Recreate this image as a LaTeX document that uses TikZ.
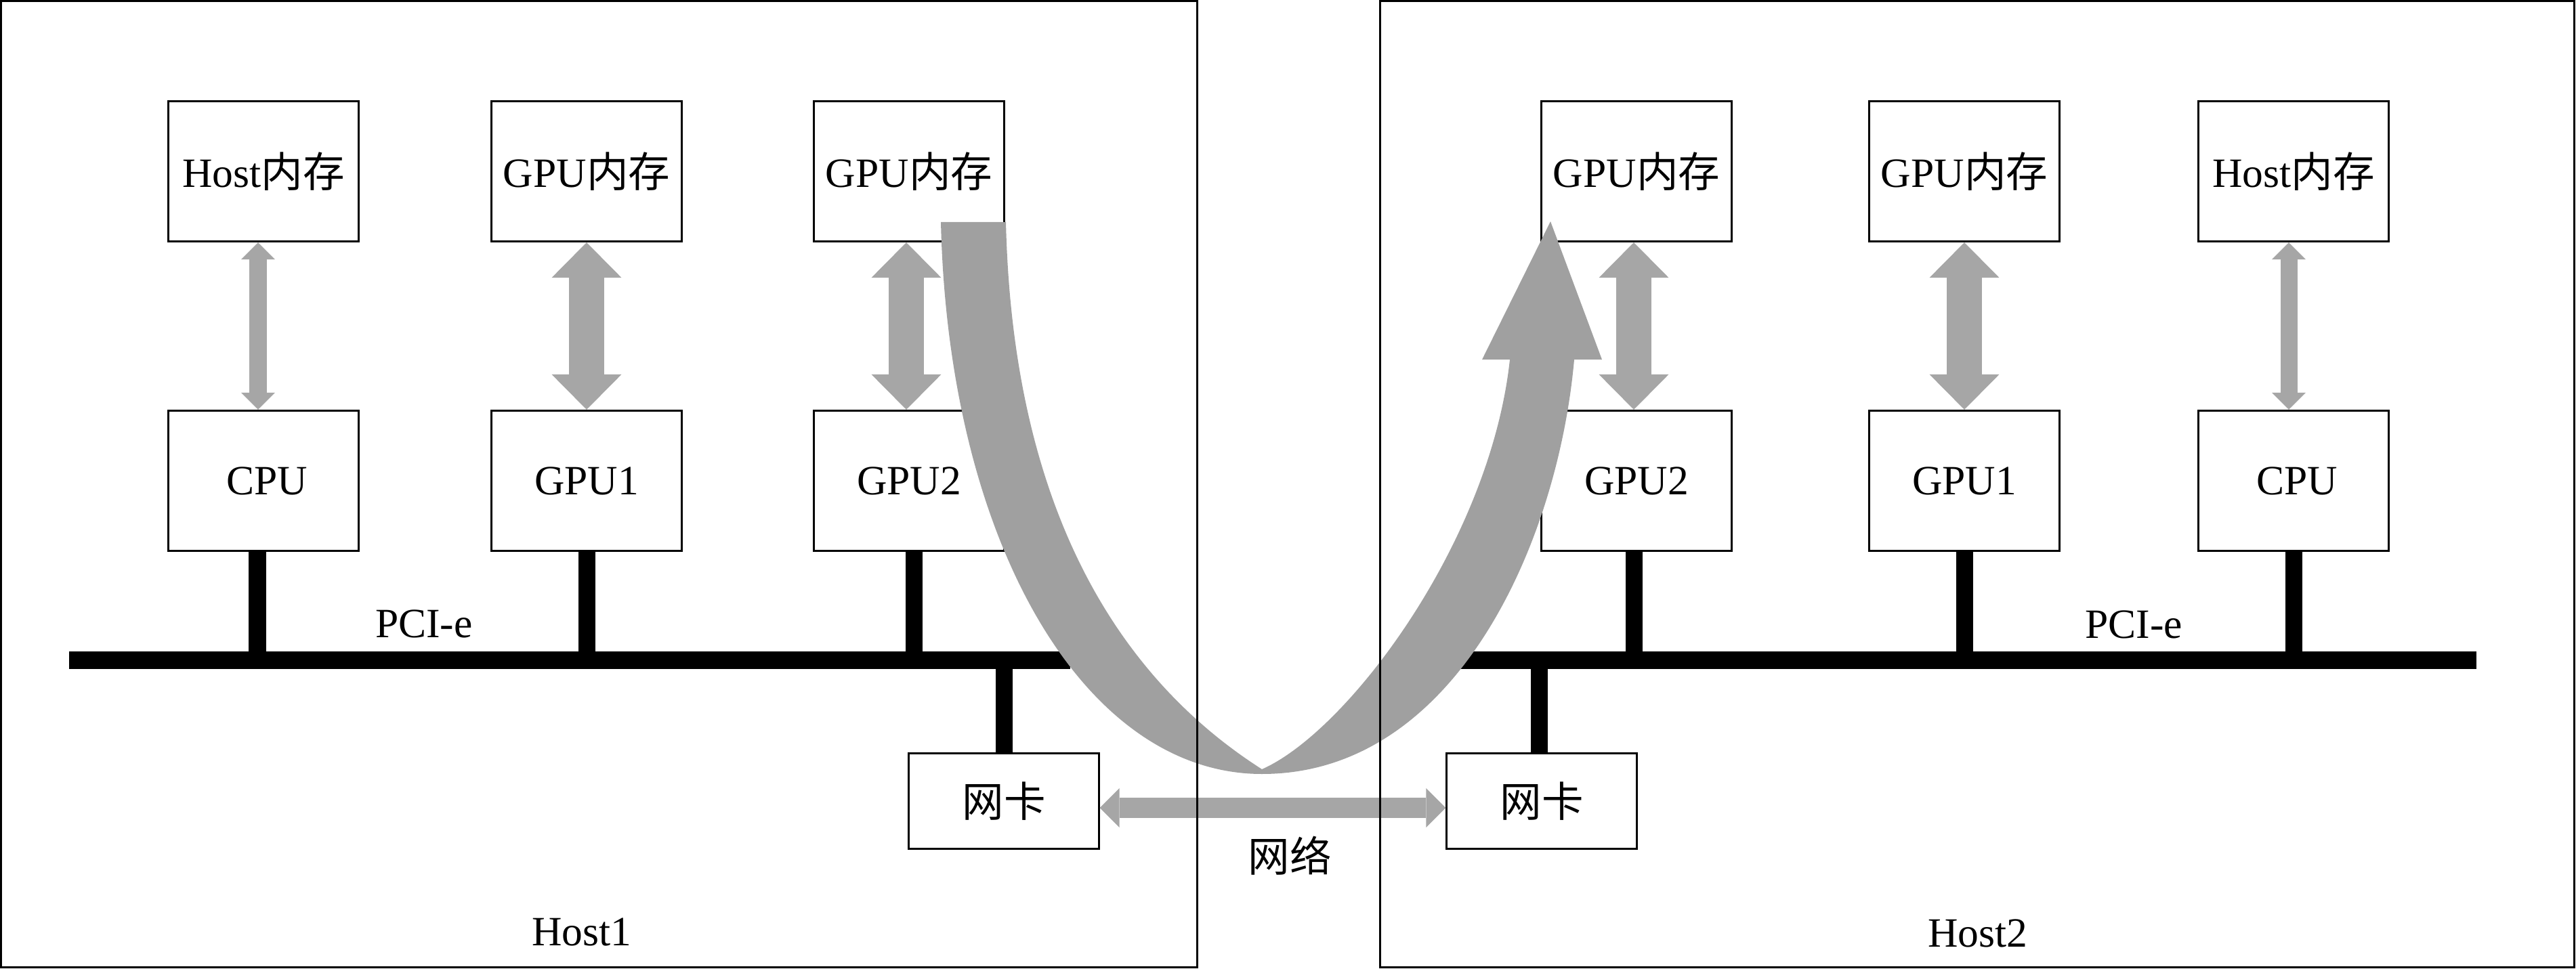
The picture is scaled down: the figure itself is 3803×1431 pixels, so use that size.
\documentclass[tikz,border=0pt]{standalone}
\usepackage{fontspec}
\setmainfont{Liberation Serif}
\newfontfamily\cjk{Noto Sans CJK SC}
\usetikzlibrary{arrows.meta}
\definecolor{agray}{HTML}{A6A6A6}
\definecolor{bgray}{HTML}{A0A0A0}
\begin{document}
\begin{tikzpicture}[x=0.01cm,y=-0.01cm,
  box/.style={draw, line width=0.03cm, minimum width=2.8cm, minimum height=2.07cm, inner sep=0pt, font=\fontsize{17.5}{21}\selectfont},
  nicbox/.style={box, minimum height=1.41cm},
  lbl/.style={font=\fontsize{17.5}{21}\selectfont, inner sep=0pt},
  busline/.style={line width=0.25cm},
  stub/.style={line width=0.25cm},
  thinarr/.style={agray, line width=0.25cm, {Triangle[width=0.5cm,length=0.25cm,line width=0pt]}-{Triangle[width=0.5cm,length=0.25cm,line width=0pt]}},
  thickarr/.style={agray, line width=0.52cm, {Triangle[width=1.03cm,length=0.52cm,line width=0pt]}-{Triangle[width=1.03cm,length=0.52cm,line width=0pt]}},
  netarr/.style={agray, line width=0.30cm, {Triangle[width=0.58cm,length=0.29cm,line width=0pt]}-{Triangle[width=0.58cm,length=0.29cm,line width=0pt]}},
  hostframe/.style={draw, line width=0.03cm}]
\useasboundingbox (0,0) rectangle (3803,1431);
% Host1
\node[box] (hm1) at (389,253) {Host{\cjk 内存}};
\node[box] (gm11) at (866,253) {GPU{\cjk 内存}};
\node[box] (gm12) at (1342,253) {GPU{\cjk 内存}};
\node[box] (cpu1) at (389,710) {\hspace{0.1cm}CPU};
\node[box] (g11) at (866,710) {GPU1};
\node[box] (g12) at (1342,710) {GPU2};
\node[nicbox] (nic1) at (1482,1183) {{\cjk 网卡}};
% Host2
\node[box] (gm22) at (2416,253) {GPU{\cjk 内存}};
\node[box] (gm21) at (2900,253) {GPU{\cjk 内存}};
\node[box] (hm2) at (3386,253) {Host{\cjk 内存}};
\node[box] (g22) at (2416,710) {GPU2};
\node[box] (g21) at (2900,710) {GPU1};
\node[box] (cpu2) at (3386,710) {\hspace{0.1cm}CPU};
\node[nicbox] (nic2) at (2276,1183) {{\cjk 网卡}};
% buses
\coordinate (b1l) at (102,975);
\coordinate (b1r) at (1580,975);
\coordinate (b2l) at (2150,975);
\coordinate (b2r) at (3656,975);
\draw[busline] (b1l) -- (b1r);
\draw[busline] (b2l) -- (b2r);
\draw[stub] ([xshift=-0.09cm]cpu1.south) -- ([xshift=-0.09cm]cpu1.south |- b1l);
\draw[stub] (g11.south) -- (g11.south |- b1l);
\draw[stub] ([xshift=0.07cm]g12.south) -- ([xshift=0.07cm]g12.south |- b1l);
\draw[stub] ([xshift=-0.04cm]g22.south) -- ([xshift=-0.04cm]g22.south |- b2l);
\draw[stub] (g21.south) -- (g21.south |- b2l);
\draw[stub] (cpu2.south) -- (cpu2.south |- b2l);
\draw[stub] (nic1.north) -- (nic1.north |- b1l);
\draw[stub] ([xshift=-0.04cm]nic2.north) -- ([xshift=-0.04cm]nic2.north |- b2l);
% memory arrows
\draw[thinarr] ([xshift=-0.08cm]hm1.south) -- ([xshift=-0.08cm]cpu1.north);
\draw[thickarr] (gm11.south) -- (g11.north);
\draw[thickarr] ([xshift=-0.04cm]gm12.south) -- ([xshift=-0.04cm]g12.north);
\draw[thickarr] ([xshift=-0.04cm]gm22.south) -- ([xshift=-0.04cm]g22.north);
\draw[thickarr] (gm21.south) -- (g21.north);
\draw[thinarr] ([xshift=-0.07cm]hm2.south) -- ([xshift=-0.07cm]cpu2.north);
% network arrow
\draw[netarr] ([yshift=-0.1cm]nic1.east) -- ([yshift=-0.1cm]nic2.west);
% big curved arrow
\fill[bgray] (1389,328) .. controls (1400,800) and (1600,1143) .. (1863,1143)
  .. controls (2150,1143) and (2300,800) .. (2324,531)
  -- (2365,531) -- (2289,327) -- (2188,531) -- (2229,531)
  .. controls (2200,800) and (1990,1080) .. (1863,1136)
  .. controls (1650,1000) and (1495,750) .. (1485,328) -- cycle;
% labels
\node[lbl] (pci1) at (626,921) {PCI-e};
\node[lbl] (pci2) at (3150,922) {PCI-e};
\node[lbl] (net) at (1904,1264) {{\cjk 网络}};
\node[lbl] (h1) at (859,1376) {Host1};
\node[lbl] (h2) at (2920,1378) {Host2};
% host frames
\draw[hostframe] (1.5,1.5) rectangle (1767,1428);
\draw[hostframe] (2037,1.5) rectangle (3800,1428);
\end{tikzpicture}
\end{document}
